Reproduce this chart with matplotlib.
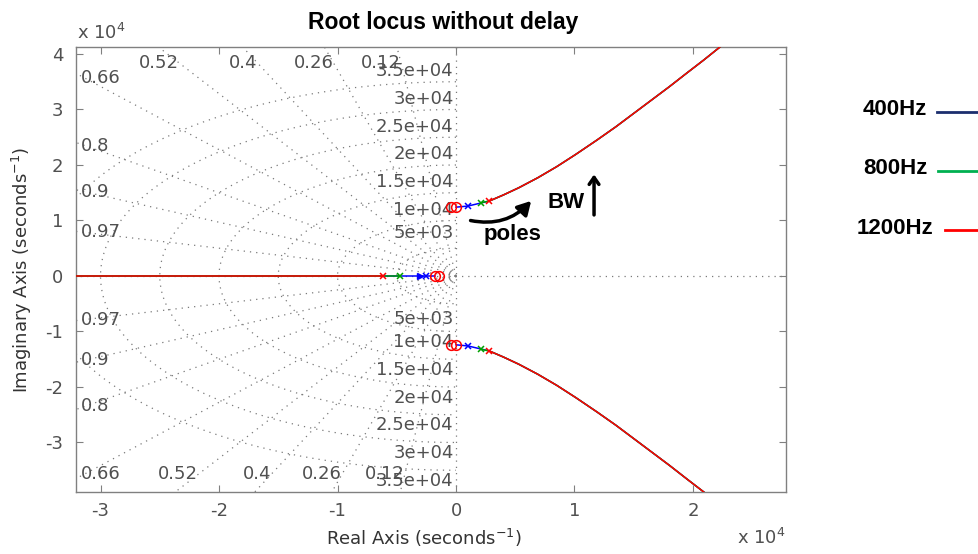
import numpy as np
import matplotlib
matplotlib.use("Agg")
import matplotlib.pyplot as plt
from matplotlib.lines import Line2D

# all values in units of 1e4 seconds^-1
series_names = ["400Hz", "800Hz", "1200Hz"]
series_colors = ["#0000ff", "#00a000", "#ff0000"]
legend_colors = ["#1c2e6e", "#00b050", "#ff0000"]

# real-axis poles and complex pole pair (upper half) for each series
real_poles = [-0.25, -0.47, -0.62]
cplx_poles_re = [0.10, 0.21, 0.28]
cplx_poles_im = [1.26, 1.32, 1.35]

# zeros (drawn as red circles)
real_zeros = [-0.18, -0.14]
cplx_zeros_re = [-0.04, 0.0]
cplx_zeros_im = [1.24, 1.24]

# shared locus branch going to infinity (upper half)
branch_re = [0.28, 0.40, 0.53, 0.69, 0.85, 1.01, 1.19, 1.35, 1.50, 1.65, 1.80, 1.95, 2.09, 2.23, 2.32]
branch_im = [1.35, 1.46, 1.59, 1.77, 1.97, 2.19, 2.45, 2.69, 2.93, 3.17, 3.41, 3.66, 3.89, 4.13, 4.29]

# sgrid
zetas = [0.12, 0.26, 0.4, 0.52, 0.66, 0.8, 0.9, 0.97]
wns = [0.5, 1.0, 1.5, 2.0, 2.5, 3.0, 3.5]
wn_labels = ["5e+03", "1e+04", "1.5e+04", "2e+04", "2.5e+04", "3e+04", "3.5e+04"]

xticks = [-3, -2, -1, 0, 1, 2]
yticks = [-3, -2, -1, 0, 1, 2, 3, 4]

W, H = 979, 554
XMIN, XMAX = -3.207, 2.785
YMIN, YMAX = -3.892, 4.126
GRAY = "#505050"
GRID = "#7a7a7a"
fs_small = 13

fig = plt.figure(figsize=(W / 100, H / 100), dpi=100)
ax = fig.add_axes([76 / W, 1 - 492 / H, (786 - 76) / W, (492 - 47) / H])
ax.set_xlim(XMIN, XMAX)
ax.set_ylim(YMIN, YMAX)

dot = dict(color=GRID, lw=0.9, ls=(0, (1, 4)), zorder=1)

# damping rays
for z in zetas:
    r = 10
    x = -r * z
    y = r * np.sqrt(1 - z**2)
    ax.plot([0, x], [0, y], **dot)
    ax.plot([0, x], [0, -y], **dot)
# natural frequency circles
t = np.linspace(np.pi / 2, 3 * np.pi / 2, 300)
for wn in wns:
    ax.plot(wn * np.cos(t), wn * np.sin(t), **dot)
ax.plot([0, 0], [-10, 10], **dot)
ax.plot([-10, 10], [0, 0], **dot)

# damping labels
for z in zetas:
    ratio = np.sqrt(1 - z**2) / z
    yl = 3.13 * ratio
    lab = "%g" % z
    if yl <= 3.62:
        for s in (1, -1):
            ax.text(XMIN + 0.04, s * yl, lab, ha="left", va="center",
                    fontsize=fs_small, color=GRAY, family="DejaVu Sans")
    else:
        yt = YMAX - 0.29
        yb = YMIN + 0.32
        ax.text(-yt / ratio, yt, lab, ha="right", va="center",
                fontsize=fs_small, color=GRAY, family="DejaVu Sans")
        ax.text(-abs(yb) / ratio, yb, lab, ha="right", va="center",
                fontsize=fs_small, color=GRAY, family="DejaVu Sans")

# natural frequency labels
for wn, lab in zip(wns, wn_labels):
    yy = max(wn + 0.19, 0.78)
    for s in (1, -1):
        ax.text(-0.02, s * yy, lab, ha="right", va="center",
                fontsize=fs_small, color=GRAY, family="DejaVu Sans")

# root locus traces
for i, (name, c) in enumerate(zip(series_names, series_colors)):
    # real axis branch
    x_end = real_zeros[0] if i == 0 else real_poles[i]
    ax.plot([XMIN - 1, x_end], [0, 0], color=c, lw=1.1, zorder=3 + i)
    # complex branches
    bx = [cplx_poles_re[i]] + [v for v in branch_re if v > cplx_poles_re[i]]
    by = [cplx_poles_im[i]] + [v for v, u in zip(branch_im, branch_re) if u > cplx_poles_re[i]]
    if i == 0:
        bx = [cplx_zeros_re[1]] + bx
        by = [cplx_zeros_im[1]] + by
    ax.plot(bx, by, color=c, lw=1.1, zorder=3 + i)
    ax.plot(bx, [-v for v in by], color=c, lw=1.1, zorder=3 + i)
    # poles
    ax.plot([real_poles[i], cplx_poles_re[i], cplx_poles_re[i]],
            [0, cplx_poles_im[i], -cplx_poles_im[i]],
            ls="none", marker="x", ms=5, mew=1.1, color=c, zorder=7)

ax.plot([-0.30], [0], ls="none", marker=">", ms=4, color=series_colors[0], zorder=7)

# zeros
for zr in real_zeros:
    ax.plot([zr], [0], ls="none", marker="o", ms=7, mfc="none", mec="#ff0000", mew=1.1, zorder=8)
for zr, zi in zip(cplx_zeros_re, cplx_zeros_im):
    ax.plot([zr, zr], [zi, -zi], ls="none", marker="o", ms=7, mfc="none", mec="#ff0000", mew=1.1, zorder=8)

# annotations
ax.annotate("", xy=(0.65, 1.39), xytext=(0.10, 1.01),
            arrowprops=dict(arrowstyle="-|>,head_length=0.8,head_width=0.45",
                            connectionstyle="arc3,rad=0.3", color="black", lw=2.5))
ax.text(0.48, 0.74, "poles", ha="center", va="center", fontsize=16,
        fontweight="bold", family="Liberation Sans")
ax.text(0.93, 1.32, "BW", ha="center", va="center", fontsize=16,
        fontweight="bold", family="Liberation Sans")
ax.annotate("", xy=(1.165, 1.88), xytext=(1.165, 1.05),
            arrowprops=dict(arrowstyle="->,head_length=0.5,head_width=0.35",
                            color="black", lw=2.5))

# axes styling
ax.set_xticks(xticks)
ax.set_yticks(yticks)
ax.set_xticklabels([str(v) for v in xticks])
ax.set_yticklabels([str(v) for v in yticks])
ax.tick_params(direction="in", length=5, color="#808080", labelcolor=GRAY,
               labelsize=fs_small, top=True, right=True)
ax.tick_params(axis="y", pad=9)
ax.tick_params(axis="x", pad=7)
for lab in ax.get_xticklabels() + ax.get_yticklabels():
    lab.set_family("DejaVu Sans")
for sp in ax.spines.values():
    sp.set_color("#808080")
    sp.set_linewidth(1.0)

fig.text(443 / W, 1 - 22 / H, "Root locus without delay", ha="center", va="center",
         fontsize=16.5, fontweight="bold", family="Liberation Sans")
fig.text(424 / W, 1 - 538 / H, "Real Axis (seconds$^{-1}$)", ha="center", va="center",
         fontsize=13, color="#333333", family="DejaVu Sans")
fig.text(22 / W, 1 - 270 / H, "Imaginary Axis (seconds$^{-1}$)", ha="center", va="center",
         rotation=90, fontsize=13, color="#333333", family="DejaVu Sans")
fig.text(77 / W, 1 - 33 / H, "x 10$^{4}$", ha="left", va="center",
         fontsize=fs_small, color=GRAY, family="DejaVu Sans")
fig.text(786 / W, 1 - 538 / H, "x 10$^{4}$", ha="right", va="center",
         fontsize=fs_small, color=GRAY, family="DejaVu Sans")

# legend as free text and line samples
leg_y = [110, 169, 228]
leg_x0 = [937, 938, 945]
for name, c, y, x0 in zip(series_names, legend_colors, leg_y, leg_x0):
    fig.text(895 / W, 1 - y / H, name, ha="center", va="center", fontsize=16,
             fontweight="bold", family="Liberation Sans")
    fig.add_artist(Line2D([x0 / W, 1.0], [1 - (y + 2) / H] * 2, color=c, lw=2,
                          transform=fig.transFigure))

fig.savefig("out.png", dpi=100)
